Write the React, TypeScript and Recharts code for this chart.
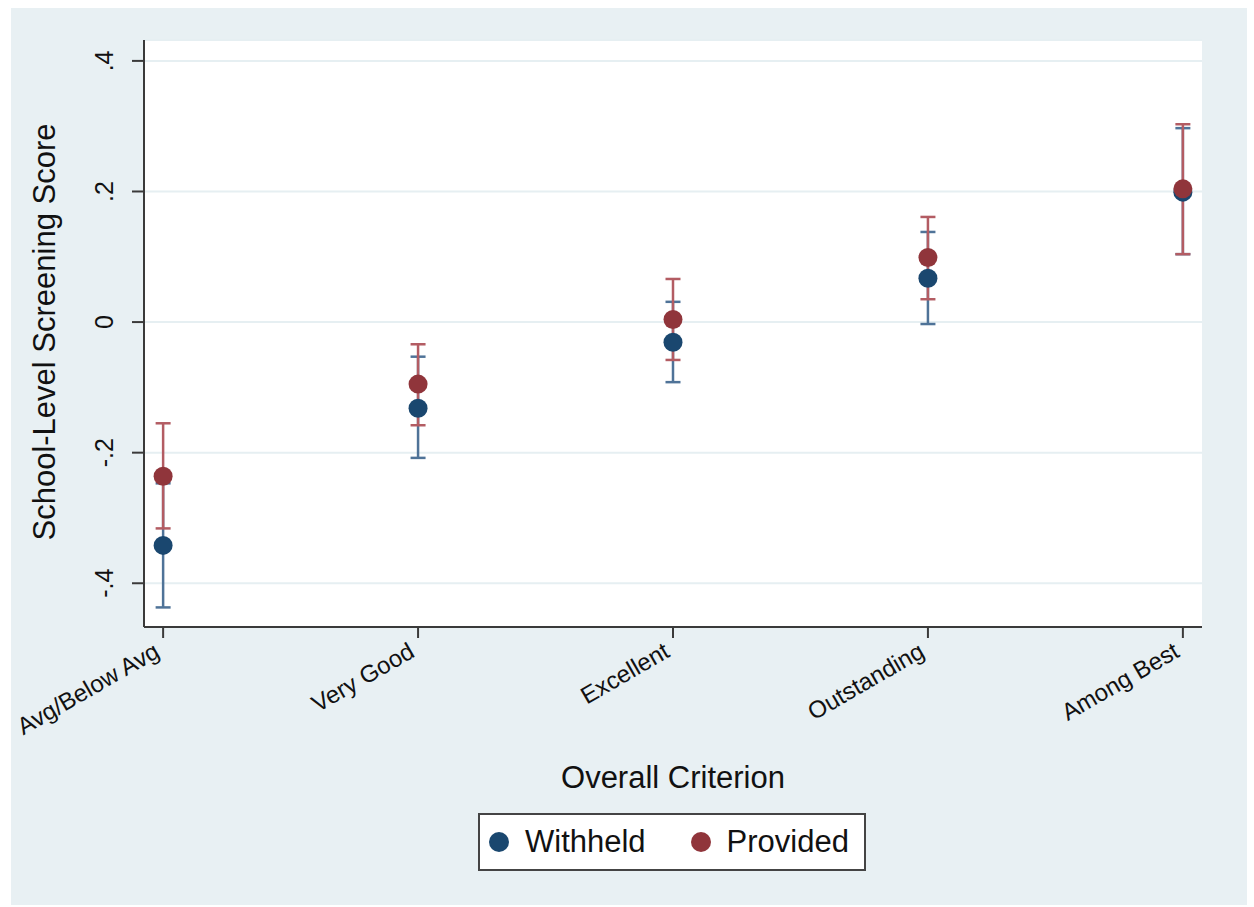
import React from "react";
import {
  ScatterChart,
  Scatter,
  XAxis,
  YAxis,
  CartesianGrid,
  ErrorBar,
  Label,
} from "recharts";

// Overall criterion categories along the x axis
const categories = [
  "Avg/Below Avg",
  "Very Good",
  "Excellent",
  "Outstanding",
  "Among Best",
];

// Point estimates and 95% CI bounds for each group
const withheldMean = [-0.342, -0.132, -0.031, 0.067, 0.199];
const withheldLow = [-0.437, -0.208, -0.092, -0.003, 0.104];
const withheldHigh = [-0.247, -0.053, 0.031, 0.138, 0.297];

const providedMean = [-0.236, -0.095, 0.004, 0.099, 0.204];
const providedLow = [-0.316, -0.158, -0.058, 0.035, 0.104];
const providedHigh = [-0.155, -0.034, 0.066, 0.161, 0.303];

const yTicks = [-0.4, -0.2, 0, 0.2, 0.4];
const yTickLabels = ["-.4", "-.2", "0", ".2", ".4"];

const WITHHELD = "#1A476F";
const PROVIDED = "#90353B";
const WITHHELD_CI = "#4F7398";
const PROVIDED_CI = "#B35C63";
const AXIS = "#3A3A3A";
const FONT = "'Liberation Sans', Arial, sans-serif";

function buildSeries(mean: number[], low: number[], high: number[]) {
  return mean.map((m, i) => ({
    x: i + 1,
    y: m,
    err: [m - low[i], high[i] - m],
  }));
}

const withheldData = buildSeries(withheldMean, withheldLow, withheldHigh);
const providedData = buildSeries(providedMean, providedLow, providedHigh);

const dot = (color: string) => (props: any) => (
  <circle cx={props.cx} cy={props.cy} r={9.5} fill={color} />
);

function XTick(props: any) {
  const { x, y, payload } = props;
  const label = categories[Math.round(payload.value) - 1] ?? "";
  return (
    <text
      x={x - 2}
      y={y}
      textAnchor="end"
      fontSize={24}
      fontFamily={FONT}
      fill="#111"
      transform={`rotate(-30 ${x - 2} ${y})`}
    >
      {label}
    </text>
  );
}

function YTick(props: any) {
  const { x, y, payload } = props;
  const idx = yTicks.findIndex((t) => Math.abs(t - payload.value) < 1e-6);
  return (
    <text
      x={x}
      y={y}
      textAnchor="middle"
      fontSize={25}
      fontFamily={FONT}
      fill="#111"
      transform={`rotate(-90 ${x} ${y})`}
    >
      {idx >= 0 ? yTickLabels[idx] : ""}
    </text>
  );
}

function XTitle(props: any) {
  const vb = props.viewBox ?? { x: 133, y: 619, width: 1058 };
  const cx = vb.x + vb.width / 2;
  return (
    <text
      x={cx}
      y={780}
      textAnchor="middle"
      fontSize={31}
      fontFamily={FONT}
      fill="#111"
    >
      Overall Criterion
    </text>
  );
}

function YTitle() {
  const cx = 44;
  const cy = 324;
  return (
    <text
      x={cx}
      y={cy}
      textAnchor="middle"
      fontSize={31}
      fontFamily={FONT}
      fill="#111"
      transform={`rotate(-90 ${cx} ${cy})`}
    >
      School-Level Screening Score
    </text>
  );
}

function LegendBox() {
  const item = (color: string, text: string) => (
    <div style={{ display: "flex", alignItems: "center" }}>
      <span
        style={{
          width: 20,
          height: 20,
          borderRadius: "50%",
          background: color,
          display: "inline-block",
          marginRight: 16,
        }}
      />
      <span>{text}</span>
    </div>
  );
  return (
    <div
      style={{
        position: "absolute",
        left: 467,
        top: 805,
        width: 375,
        height: 54,
        border: "2px solid #444",
        background: "#fff",
        display: "flex",
        alignItems: "center",
        gap: 45,
        paddingLeft: 9,
        fontFamily: FONT,
        fontSize: 31,
        color: "#111",
        boxSizing: "content-box",
      }}
    >
      {item(WITHHELD, "Withheld")}
      {item(PROVIDED, "Provided")}
    </div>
  );
}

export default function App() {
  return (
    <div
      style={{
        position: "absolute",
        left: 11,
        top: 8,
        width: 1236,
        height: 897,
        background: "#E8F0F3",
      }}
    >
      <ScatterChart
        width={1236}
        height={897}
        margin={{ top: 32, right: 45, bottom: 158, left: 53 }}
      >
        <CartesianGrid
          vertical={false}
          fill="#ffffff"
          fillOpacity={1}
          stroke="#E6EFF2"
          strokeWidth={2}
        />
        <XAxis
          type="number"
          dataKey="x"
          domain={[0.925, 5.075]}
          ticks={[1, 2, 3, 4, 5]}
          allowDataOverflow
          height={120}
          tickSize={11}
          tickMargin={18}
          axisLine={{ stroke: AXIS, strokeWidth: 2 }}
          tickLine={{ stroke: AXIS, strokeWidth: 2 }}
          tick={<XTick />}
        >
          <Label content={<XTitle />} />
        </XAxis>
        <YAxis
          type="number"
          dataKey="y"
          domain={[-0.467, 0.432]}
          ticks={yTicks}
          allowDataOverflow
          width={80}
          tickSize={12}
          tickMargin={19}
          axisLine={{ stroke: AXIS, strokeWidth: 2 }}
          tickLine={{ stroke: AXIS, strokeWidth: 2 }}
          tick={<YTick />}
        >
          <Label content={<YTitle />} />
        </YAxis>
        <Scatter
          name="Withheld"
          data={withheldData}
          shape={dot(WITHHELD)}
          isAnimationActive={false}
        >
          <ErrorBar
            dataKey="err"
            direction="y"
            width={7.5}
            stroke={WITHHELD_CI}
            strokeWidth={2.5}
            isAnimationActive={false}
          />
        </Scatter>
        <Scatter
          name="Provided"
          data={providedData}
          shape={dot(PROVIDED)}
          isAnimationActive={false}
        >
          <ErrorBar
            dataKey="err"
            direction="y"
            width={7.5}
            stroke={PROVIDED_CI}
            strokeWidth={2.5}
            isAnimationActive={false}
          />
        </Scatter>
      </ScatterChart>
      <LegendBox />
    </div>
  );
}
